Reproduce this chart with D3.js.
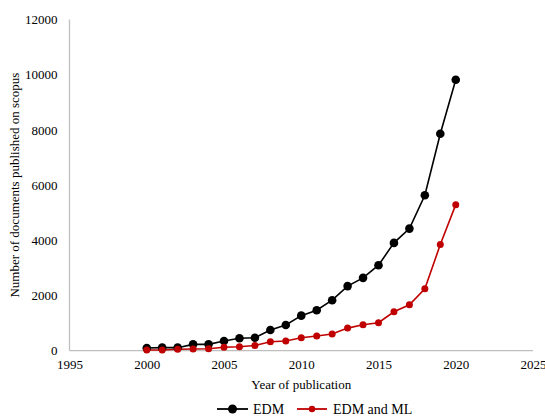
<!DOCTYPE html>
<html>
<head>
<meta charset="utf-8">
<script src="https://cdn.jsdelivr.net/npm/d3@7"></script>
<style>
  html, body { margin: 0; padding: 0; background: #fff; }
  svg { display: block; }
  text { font-family: "Liberation Serif", "Times New Roman", serif; fill: #000; }
</style>
</head>
<body>
<svg id="chart" width="545" height="416"></svg>
<script>
const years = [2000,2001,2002,2003,2004,2005,2006,2007,2008,2009,2010,2011,2012,2013,2014,2015,2016,2017,2018,2019,2020];
const edm = [100,110,110,230,230,350,449,470,749,930,1270,1465,1830,2340,2640,3097,3906,4424,5630,7860,9815];
const edmMl = [25,25,50,62,72,123,145,190,326,350,470,532,604,818,940,1013,1411,1664,2243,3845,5292];
const xTicks = [1995,2000,2005,2010,2015,2020,2025];
const yTicks = [0,2000,4000,6000,8000,10000,12000];
const seriesNames = ["EDM", "EDM and ML"];

const svg = d3.select("#chart");
const x = d3.scaleLinear().domain([1995, 2025]).range([69.5, 533]);
const y = d3.scaleLinear().domain([0, 12000]).range([350.7, 19.5]);
const axisColor = "#bfbfbf";

// axis lines
svg.append("line").attr("x1", x(1995)).attr("x2", x(2025)).attr("y1", y(0)).attr("y2", y(0))
  .attr("stroke", axisColor).attr("stroke-width", 1.3);
svg.append("line").attr("x1", x(1995)).attr("x2", x(1995)).attr("y1", y(0)).attr("y2", y(12000))
  .attr("stroke", axisColor).attr("stroke-width", 1.3);

// y axis ticks
const yAxis = d3.axisLeft(y).tickValues(yTicks).tickSize(0).tickPadding(12).tickFormat(d3.format("d"));
const gy = svg.append("g").attr("transform", `translate(${x(1995)},0)`).call(yAxis);
gy.select(".domain").remove();
gy.selectAll("text").style("font-family", '"Liberation Serif", serif').style("font-size", "13px").attr("fill", "#000");

// x axis ticks
const xAxis = d3.axisBottom(x).tickValues(xTicks).tickSize(0).tickPadding(9).tickFormat(d3.format("d"));
const gx = svg.append("g").attr("transform", `translate(0,${y(0)})`).call(xAxis);
gx.select(".domain").remove();
gx.selectAll("text").style("font-family", '"Liberation Serif", serif').style("font-size", "13px").attr("fill", "#000");

// axis titles
svg.append("text").attr("x", (x(1995) + x(2025)) / 2).attr("y", 389)
  .attr("text-anchor", "middle").style("font-size", "13px").text("Year of publication");
svg.append("text").attr("transform", `translate(19,${(y(0) + y(12000)) / 2}) rotate(-90)`)
  .attr("text-anchor", "middle").style("font-size", "13px").text("Number of documents published on scopus");

const line = d3.line().x(d => x(d[0])).y(d => y(d[1]));
const series = [
  { name: seriesNames[0], values: edm, color: "#000000", r: 4.3, w: 1.6 },
  { name: seriesNames[1], values: edmMl, color: "#c00000", r: 3.5, w: 1.6 }
];

// draw red first then black? reference shows black above red at low years
[series[1], series[0]].forEach(s => {
  const pts = years.map((yr, i) => [yr, s.values[i]]);
  svg.append("path").datum(pts).attr("d", line).attr("fill", "none")
    .attr("stroke", s.color).attr("stroke-width", s.w);
});
[series[0], series[1]].forEach(s => {
  const pts = years.map((yr, i) => [yr, s.values[i]]);
  svg.append("g").selectAll("circle").data(pts).join("circle")
    .attr("cx", d => x(d[0])).attr("cy", d => y(d[1])).attr("r", s.r).attr("fill", s.color);
});

// legend
const legendY = 409;
const legendItems = [
  { s: series[0], x0: 217, x1: 248, tx: 253 },
  { s: series[1], x0: 297, x1: 327, tx: 333 }
];
legendItems.forEach(li => {
  svg.append("line").attr("x1", li.x0).attr("x2", li.x1).attr("y1", legendY).attr("y2", legendY)
    .attr("stroke", li.s.color).attr("stroke-width", 1.8);
  svg.append("circle").attr("cx", (li.x0 + li.x1) / 2).attr("cy", legendY)
    .attr("r", li.s === series[0] ? 4.5 : 3.2).attr("fill", li.s.color);
  svg.append("text").attr("x", li.tx).attr("y", legendY + 5).style("font-size", "14px").text(li.s.name);
});
</script>
</body>
</html>
